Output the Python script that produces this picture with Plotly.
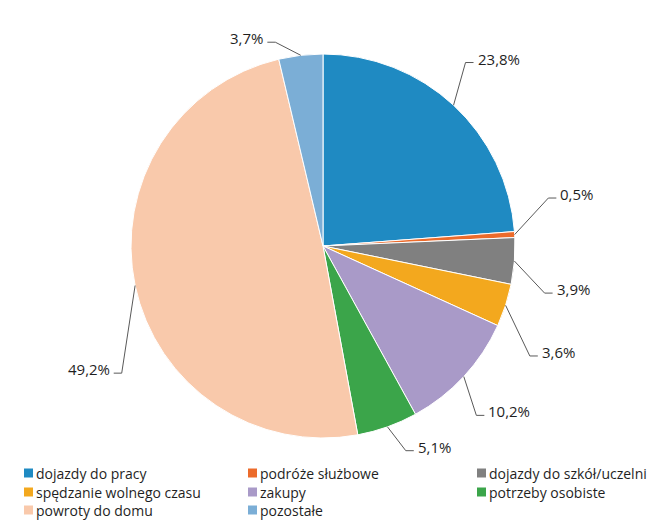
import math
import plotly.graph_objects as go

# Trip purposes and their share of all trips (%)
categories = [
    "dojazdy do pracy",
    "podróże służbowe",
    "dojazdy do szkół/uczelni",
    "spędzanie wolnego czasu",
    "zakupy",
    "potrzeby osobiste",
    "powroty do domu",
    "pozostałe",
]
shares = [23.8, 0.5, 3.9, 3.6, 10.2, 5.1, 49.2, 3.7]
share_labels = ["23,8%", "0,5%", "3,9%", "3,6%", "10,2%", "5,1%", "49,2%", "3,7%"]

colors = ["#1F8AC2", "#EC6B2B", "#808080", "#F3A81E", "#A99AC8",
          "#3BA54A", "#F9C9AB", "#7BAED6"]

# Canvas and pie geometry (pixels)
W, H = 669, 520
CX, CY, R = 323, 246, 192

# Leader-line layout: angular nudge of each elbow (deg) and its distance from centre (× radius)
elbow_nudge = [-5, -8.6, 7.5, 10, 5, -2.4, -20.4, -6.5]
elbow_dist = [1.21, 1.20, 1.18, 1.22, 1.19, 1.15, 1.24, 1.09]
TICK = 8          # horizontal part of each leader line
LINE_COLOR = "#595959"
TEXT_COLOR = "#1F1F1F"
FONT = "Open Sans"


def px(x):
    return x / W


def py(y):
    return 1 - y / H


fig = go.Figure(
    go.Pie(
        labels=categories,
        values=shares,
        sort=False,
        direction="clockwise",
        rotation=0,
        marker=dict(colors=colors, line=dict(color="white", width=1)),
        textinfo="none",
        hoverinfo="label+percent",
        showlegend=False,
        domain=dict(x=[px(CX - R), px(CX + R)], y=[py(CY + R), py(CY - R)]),
    )
)

shapes = []
annotations = []
total = sum(shares)
cum = 0.0
for i, v in enumerate(shares):
    mid = (cum + v / 2) / total * 360.0
    cum += v
    a = math.radians(mid)
    # point on the rim in the middle of the slice
    x0 = CX + R * math.sin(a)
    y0 = CY - R * math.cos(a)
    # elbow of the leader line
    b = math.radians(mid + elbow_nudge[i])
    x1 = CX + R * elbow_dist[i] * math.sin(b)
    y1 = CY - R * elbow_dist[i] * math.cos(b)
    side = 1 if math.sin(b) >= 0 else -1
    x2 = x1 + side * TICK
    shapes.append(dict(
        type="path", xref="paper", yref="paper",
        path=f"M {px(x0)},{py(y0)} L {px(x1)},{py(y1)} L {px(x2)},{py(y1)}",
        line=dict(color=LINE_COLOR, width=1),
    ))
    annotations.append(dict(
        xref="paper", yref="paper",
        x=px(x2 + side * 2), y=py(y1 - 4),
        xanchor="left" if side > 0 else "right", yanchor="middle",
        text=share_labels[i], showarrow=False,
        font=dict(family=FONT, size=15, color=TEXT_COLOR),
    ))

# Legend: three columns of coloured squares with captions
col_x = [24, 248, 477]
row_y = [473, 492, 510]
SQ = 9
for i, name in enumerate(categories):
    cx = col_x[i % 3]
    cy = row_y[i // 3]
    shapes.append(dict(
        type="rect", xref="paper", yref="paper",
        x0=px(cx), x1=px(cx + SQ), y0=py(cy + SQ / 2), y1=py(cy - SQ / 2),
        fillcolor=colors[i], line=dict(width=0),
    ))
    annotations.append(dict(
        xref="paper", yref="paper",
        x=px(cx + SQ + 1), y=py(cy),
        xanchor="left", yanchor="middle",
        text=name, showarrow=False,
        font=dict(family=FONT, size=14, color=TEXT_COLOR),
    ))

fig.update_layout(
    width=W, height=H,
    margin=dict(l=0, r=0, t=0, b=0),
    paper_bgcolor="white",
    plot_bgcolor="white",
    shapes=shapes,
    annotations=annotations,
    showlegend=False,
)

fig.write_html("out.html")
